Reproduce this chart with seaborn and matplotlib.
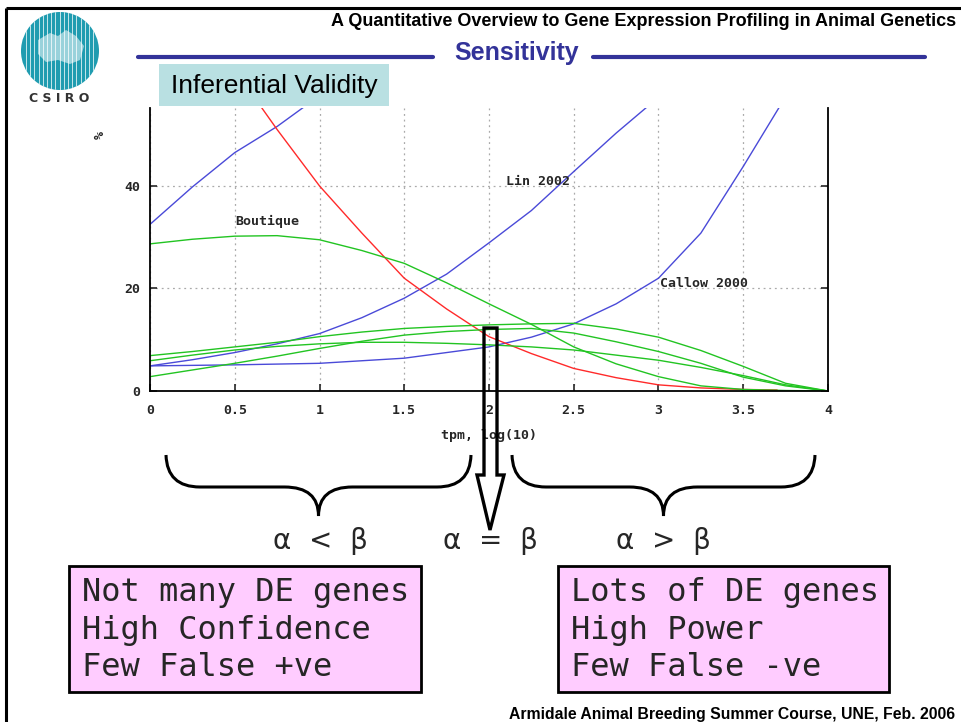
import numpy as np
import pandas as pd
import matplotlib.pyplot as plt
import seaborn as sns
from matplotlib.patches import Circle, Rectangle, Polygon, PathPatch
from matplotlib.path import Path

# curves (x = tpm, log10 ; y = %)
grid_x = [0, 0.25, 0.5, 0.75, 1.0, 1.25, 1.5, 1.75, 2.0, 2.25, 2.5, 2.75, 3.0, 3.25, 3.5, 3.75, 4.0]

blue_a_x = [0, 0.25, 0.5, 0.75, 1.0]
blue_a_y = [32.5, 39.8, 46.5, 51.6, 57.6]

lin_x = [0, 0.25, 0.5, 0.75, 1.0, 1.25, 1.5, 1.75, 2.0, 2.25, 2.5, 2.75, 3.0]
lin_y = [4.9, 6.1, 7.5, 9.2, 11.2, 14.3, 18.1, 22.8, 28.9, 35.2, 42.8, 50.3, 57.3]

callow_x = [0, 0.5, 1.0, 1.5, 2.0, 2.25, 2.5, 2.75, 3.0, 3.25, 3.5, 3.75]
callow_y = [4.9, 5.1, 5.4, 6.4, 8.6, 10.5, 13.1, 17.0, 22.0, 30.8, 43.8, 57.4]

red_x = [0.6, 0.75, 1.0, 1.25, 1.5, 1.75, 2.0, 2.25, 2.5, 2.75, 3.0, 3.25, 3.5, 3.7]
red_y = [58.0, 51.0, 40.0, 30.8, 22.0, 16.0, 10.6, 7.3, 4.4, 2.6, 1.2, 0.6, 0.3, 0.2]

boutique_y = [28.7, 29.6, 30.2, 30.3, 29.5, 27.4, 24.9, 21.1, 17.0, 13.0, 8.6, 5.3, 2.8, 1.0, 0.3, 0.1, 0.0]
green_a_y = [6.9, 7.7, 8.6, 9.5, 10.6, 11.5, 12.2, 12.6, 12.9, 13.1, 13.2, 12.1, 10.5, 7.9, 4.8, 1.5, 0.0]
green_b_y = [5.9, 7.0, 8.0, 8.7, 9.2, 9.5, 9.5, 9.3, 9.0, 8.6, 8.0, 7.0, 6.0, 4.6, 3.0, 1.2, 0.0]
green_c_y = [2.8, 4.1, 5.4, 6.8, 8.3, 9.7, 10.9, 11.6, 12.0, 12.2, 11.3, 9.6, 7.7, 5.4, 2.7, 1.0, 0.0]

x_ticks = [0, 0.5, 1, 1.5, 2, 2.5, 3, 3.5, 4]
x_tick_labels = ["0", "0.5", "1", "1.5", "2", "2.5", "3", "3.5", "4"]
y_ticks = [0, 20, 40]
y_tick_labels = ["0", "20", "40"]

left_lines = ["Not many DE genes", "High Confidence", "Few False +ve"]
right_lines = ["Lots of DE genes", "High Power", "Few False -ve"]

series = [
    ("blue_a", blue_a_x, blue_a_y),
    ("lin", lin_x, lin_y),
    ("callow", callow_x, callow_y),
    ("red", red_x, red_y),
    ("boutique", grid_x, boutique_y),
    ("green_a", grid_x, green_a_y),
    ("green_b", grid_x, green_b_y),
    ("green_c", grid_x, green_c_y),
]
df = pd.concat([pd.DataFrame({"tpm": xs, "pct": ys, "curve": name}) for name, xs, ys in series])

blue, red, green = "#4a4ad8", "#ff2a2a", "#22c422"
palette = {"blue_a": blue, "lin": blue, "callow": blue, "red": red,
           "boutique": green, "green_a": green, "green_b": green, "green_c": green}

sns.set_style("white")
plt.rcParams['font.family'] = ['Liberation Sans', 'DejaVu Sans']

W, H = 962, 722
fig = plt.figure(figsize=(W / 100, H / 100), dpi=100)
ax = fig.add_axes([150 / W, 1 - 391 / H, 678 / W, 283 / H])

sns.lineplot(data=df, x="tpm", y="pct", hue="curve", palette=palette, estimator=None,
             linewidth=1.0, legend=False, ax=ax)

ax.set_xlim(0, 4)
ax.set_ylim(0, 55.2)
ax.grid(True, color="#aaaaaa", linestyle=(0, (1.5, 3)), linewidth=0.9)
ax.spines["top"].set_visible(False)
for s in ["left", "right", "bottom"]:
    ax.spines[s].set_color("black")
    ax.spines[s].set_linewidth(1.3)

mono = {"family": "DejaVu Sans Mono", "weight": "bold", "size": 9.5}
ax.set_xticks(x_ticks)
ax.set_xticklabels(x_tick_labels, fontdict=mono)
ax.set_yticks(y_ticks)
ax.set_yticklabels(y_tick_labels, fontdict=mono)
ax.tick_params(axis="x", direction="in", length=5, width=1.2, pad=9, bottom=True)
ax.tick_params(axis="y", direction="in", length=5, width=1.2, pad=7, left=True, right=True)
ax.set_xlabel("tpm, log(10)", fontdict=mono, labelpad=9)
ax.set_ylabel("")

ax.text(0.5, 33.0, "Boutique", fontdict=mono, ha="left", va="center")
ax.text(2.1, 40.8, "Lin 2002", fontdict=mono, ha="left", va="center")
ax.text(3.01, 20.9, "Callow 2000", fontdict=mono, ha="left", va="center")
fig.text(100 / W, 1 - 135 / H, "%", fontdict=mono, rotation=90, ha="center", va="center")

# slide decoration in pixel coordinates
ov = fig.add_axes([0, 0, 1, 1])
ov.set_xlim(0, W)
ov.set_ylim(H, 0)
ov.axis("off")
ov.patch.set_alpha(0)

# frame
ov.plot([6, W], [8, 8], color="black", lw=2.2, solid_capstyle="butt")
ov.plot([6, 6], [8, H], color="black", lw=2.2, solid_capstyle="butt")

# logo
logo = Circle((60, 51), 39, facecolor="#1f9cb0", edgecolor="none")
ov.add_patch(logo)
stripes = ov.vlines(np.arange(26, 96, 4.2), 10, 92, colors="white", lw=0.7, alpha=0.75)
stripes.set_clip_path(logo)
blob = Polygon([(38, 40), (50, 33), (58, 36), (66, 30), (76, 36), (84, 46), (80, 60),
                (70, 64), (58, 60), (46, 62), (38, 54)], closed=True,
               facecolor="white", edgecolor="none", alpha=0.55)
ov.add_patch(blob)
ov.text(59, 98, "C S I R O", ha="center", va="center", fontsize=9, fontweight="bold",
        color="#333333", family="DejaVu Sans")

# headings
ov.text(956, 21, "A Quantitative Overview to Gene Expression Profiling in Animal Genetics",
        ha="right", va="center", fontsize=13, fontweight="bold", color="black")
ov.text(517, 53, "Sensitivity", ha="center", va="center", fontsize=18, fontweight="bold",
        color="#333399")
ov.plot([138, 433], [57, 57], color="#333399", lw=3)
ov.plot([593, 925], [57, 57], color="#333399", lw=3)

ov.add_patch(Rectangle((159, 64), 230, 42, facecolor="#b9e0e2", edgecolor="none"))
ov.text(274, 86, "Inferential Validity", ha="center", va="center", fontsize=19, color="black")

# hollow arrow
arrow = Polygon([(484, 328), (497, 328), (497, 475), (504, 475), (490, 530), (477, 475),
                 (484, 475)], closed=True, facecolor="none", edgecolor="black", lw=2.4,
                joinstyle="miter")
ov.add_patch(arrow)


def brace(x0, x1, ytop, ymid, ytip, r=34):
    xm = (x0 + x1) / 2
    verts = [(x0, ytop), (x0 + 1, ymid), (x0 + r, ymid),
             (xm - r, ymid),
             (xm, ymid), (xm, ytip),
             (xm, ymid), (xm + r, ymid),
             (x1 - r, ymid),
             (x1 - 1, ymid), (x1, ytop)]
    codes = [Path.MOVETO, Path.CURVE3, Path.CURVE3, Path.LINETO, Path.CURVE3, Path.CURVE3,
             Path.CURVE3, Path.CURVE3, Path.LINETO, Path.CURVE3, Path.CURVE3]
    return PathPatch(Path(verts, codes), facecolor="none", edgecolor="black", lw=2.2)


ov.add_patch(brace(166, 471, 455, 487, 516))
ov.add_patch(brace(512, 815, 455, 487, 516))

for cx, txt in [(320, "α  <  β"), (490, "α  =  β"), (663, "α  >  β")]:
    ov.text(cx, 541, txt, ha="center", va="center", fontsize=20, family="DejaVu Sans")

# pink boxes
for x0, x1, lines in [(69, 421, left_lines), (558, 889, right_lines)]:
    ov.add_patch(Rectangle((x0, 566), x1 - x0, 126, facecolor="#ffccff", edgecolor="black", lw=2))
    for i, line in enumerate(lines):
        ov.text(x0 + 13, 592 + 38 * i, line, ha="left", va="center", fontsize=23,
                family="DejaVu Sans Mono")

ov.text(955, 715, "Armidale Animal Breeding Summer Course, UNE, Feb. 2006", ha="right",
        va="center", fontsize=11.3, fontweight="bold", color="black")

fig.savefig("out.png", dpi=100)
